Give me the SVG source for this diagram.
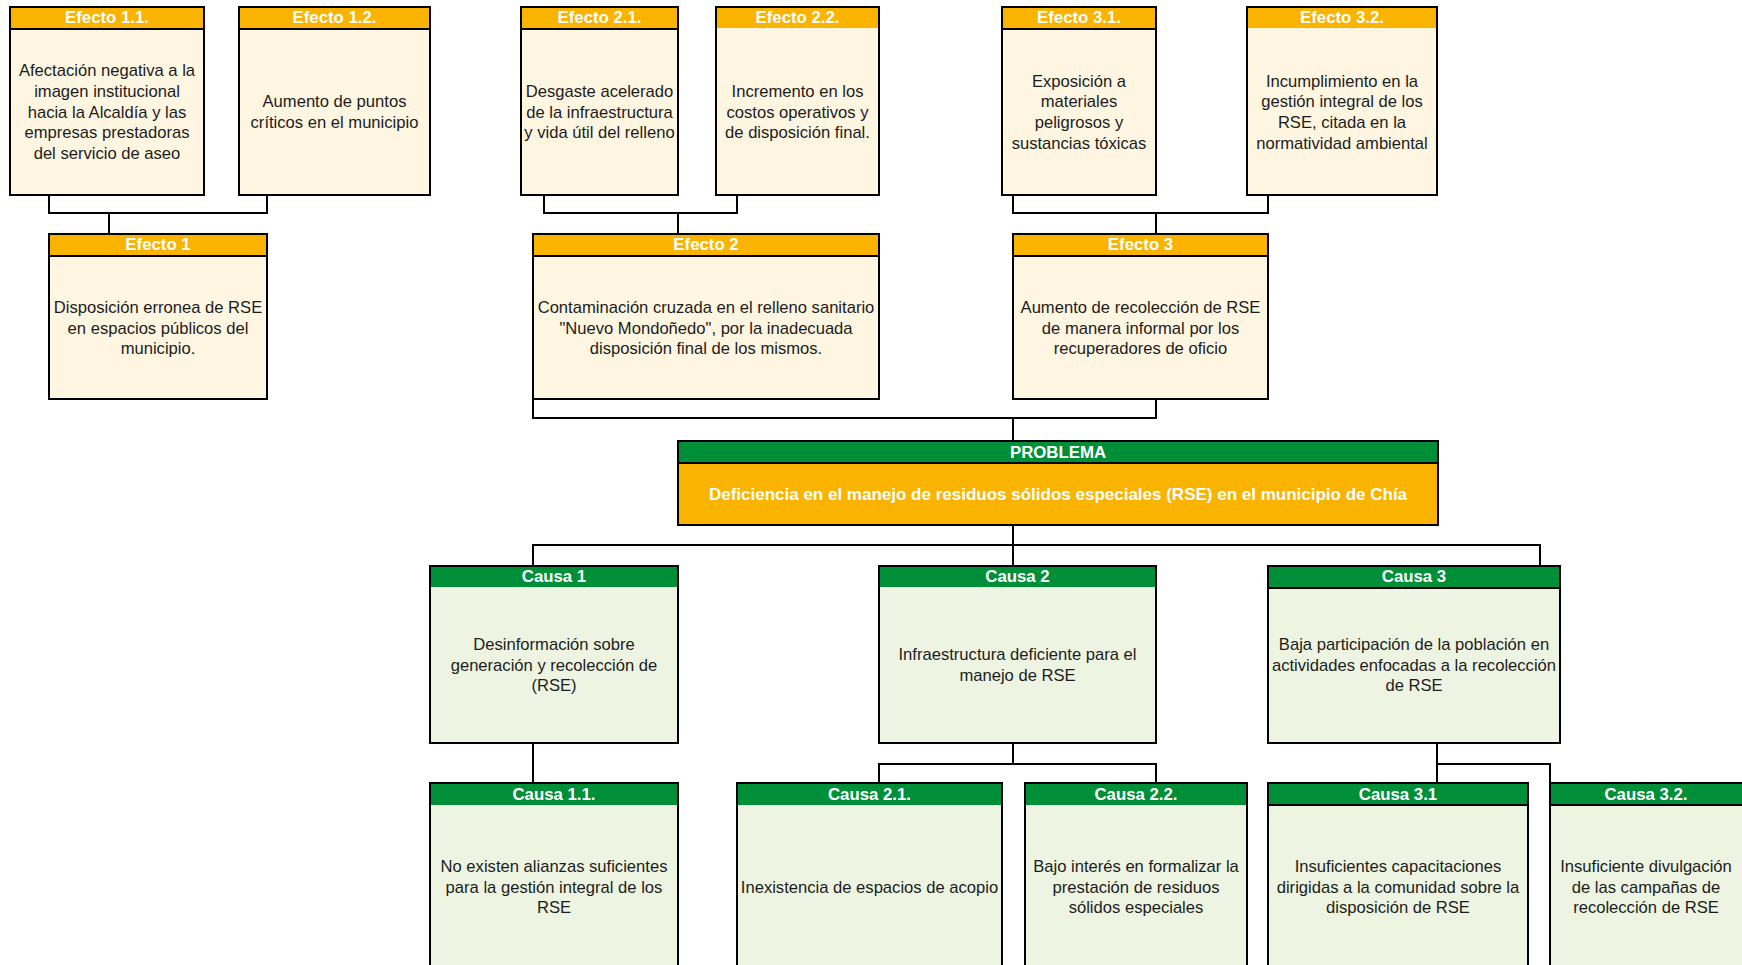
<svg xmlns="http://www.w3.org/2000/svg" width="1742" height="965" viewBox="0 0 1742 965">
<style>
.bo{fill:#FEF6E1;stroke:#000;stroke-width:2}
.bg{fill:#EDF5E2;stroke:#000;stroke-width:2}
.ho{fill:#FAB400}
.hg{fill:#008F39}
.sep{stroke:#000;stroke-width:2}
.ht{font-family:"Liberation Sans",Arial,sans-serif;font-weight:bold;font-size:16.8px;fill:#fff;text-anchor:middle}
.bt{font-family:"Liberation Sans",Arial,sans-serif;font-size:16.6px;fill:#1c1c1c;text-anchor:middle}
.pt{font-family:"Liberation Sans",Arial,sans-serif;font-weight:bold;font-size:17px;fill:#fff;text-anchor:middle}
.cn{fill:none;stroke:#000;stroke-width:2}
</style>
<rect width="1742" height="965" fill="#fff"/>

<g id="connectors" class="cn">
<polyline points="49,195 49,213 267,213 267,195"/>
<line x1="109" y1="213" x2="109" y2="234"/>
<polyline points="544,195 544,213 737,213 737,195"/>
<line x1="678" y1="213" x2="678" y2="234"/>
<polyline points="1013,195 1013,213 1268,213 1268,195"/>
<line x1="1156" y1="213" x2="1156" y2="234"/>
<polyline points="533,399 533,418 1156,418 1156,399"/>
<line x1="1013" y1="418" x2="1013" y2="441"/>
<line x1="1013" y1="525" x2="1013" y2="566"/>
<polyline points="533,566 533,545 1540,545 1540,566"/>
<line x1="533" y1="743" x2="533" y2="783"/>
<line x1="1013" y1="743" x2="1013" y2="764"/>
<polyline points="879,783 879,764 1156,764 1156,783"/>
<line x1="1437" y1="743" x2="1437" y2="783"/>
<polyline points="1437,764 1550,764 1550,783"/>
</g>

<g id="efecto-1-1">
<rect class="bo" x="10" y="7" width="194" height="188"/>
<rect class="ho" x="11" y="8" width="192" height="21"/>
<line class="sep" x1="10" y1="29" x2="204" y2="29"/>
<text class="ht" x="107" y="23">Efecto 1.1.</text>
<text class="bt" x="107" y="76.1">Afectación negativa a la</text>
<text class="bt" x="107" y="96.8">imagen institucional</text>
<text class="bt" x="107" y="117.5">hacia la Alcaldía y las</text>
<text class="bt" x="107" y="138.2">empresas prestadoras</text>
<text class="bt" x="107" y="158.9">del servicio de aseo</text>
</g>

<g id="efecto-1-2">
<rect class="bo" x="239" y="7" width="191" height="188"/>
<rect class="ho" x="240" y="8" width="189" height="21"/>
<line class="sep" x1="239" y1="29" x2="430" y2="29"/>
<text class="ht" x="334.5" y="23">Efecto 1.2.</text>
<text class="bt" x="334.5" y="107.2">Aumento de puntos</text>
<text class="bt" x="334.5" y="127.9">críticos en el municipio</text>
</g>

<g id="efecto-2-1">
<rect class="bo" x="521" y="7" width="157" height="188"/>
<rect class="ho" x="522" y="8" width="155" height="21"/>
<line class="sep" x1="521" y1="29" x2="678" y2="29"/>
<text class="ht" x="599.5" y="23">Efecto 2.1.</text>
<text class="bt" x="599.5" y="96.8">Desgaste acelerado</text>
<text class="bt" x="599.5" y="117.5">de la infraestructura</text>
<text class="bt" x="599.5" y="138.2">y vida útil del relleno</text>
</g>

<g id="efecto-2-2">
<rect class="bo" x="716" y="7" width="163" height="188"/>
<rect class="ho" x="717" y="8" width="161" height="20"/>
<text class="ht" x="797.5" y="23">Efecto 2.2.</text>
<text class="bt" x="797.5" y="96.8">Incremento en los</text>
<text class="bt" x="797.5" y="117.5">costos operativos y</text>
<text class="bt" x="797.5" y="138.2">de disposición final.</text>
</g>

<g id="efecto-3-1">
<rect class="bo" x="1002" y="7" width="154" height="188"/>
<rect class="ho" x="1003" y="8" width="152" height="21"/>
<line class="sep" x1="1002" y1="29" x2="1156" y2="29"/>
<text class="ht" x="1079" y="23">Efecto 3.1.</text>
<text class="bt" x="1079" y="86.5">Exposición a</text>
<text class="bt" x="1079" y="107.2">materiales</text>
<text class="bt" x="1079" y="127.9">peligrosos y</text>
<text class="bt" x="1079" y="148.6">sustancias tóxicas</text>
</g>

<g id="efecto-3-2">
<rect class="bo" x="1247" y="7" width="190" height="188"/>
<rect class="ho" x="1248" y="8" width="188" height="20"/>
<text class="ht" x="1342" y="23">Efecto 3.2.</text>
<text class="bt" x="1342" y="86.5">Incumplimiento en la</text>
<text class="bt" x="1342" y="107.2">gestión integral de los</text>
<text class="bt" x="1342" y="127.9">RSE, citada en la</text>
<text class="bt" x="1342" y="148.6">normatividad ambiental</text>
</g>

<g id="efecto-1">
<rect class="bo" x="49" y="234" width="218" height="165"/>
<rect class="ho" x="50" y="235" width="216" height="21"/>
<line class="sep" x1="49" y1="256" x2="267" y2="256"/>
<text class="ht" x="158" y="250">Efecto 1</text>
<text class="bt" x="158" y="312.8">Disposición erronea de RSE</text>
<text class="bt" x="158" y="333.5">en espacios públicos del</text>
<text class="bt" x="158" y="354.2">municipio.</text>
</g>

<g id="efecto-2">
<rect class="bo" x="533" y="234" width="346" height="165"/>
<rect class="ho" x="534" y="235" width="344" height="21"/>
<line class="sep" x1="533" y1="256" x2="879" y2="256"/>
<text class="ht" x="706" y="250">Efecto 2</text>
<text class="bt" x="706" y="312.8">Contaminación cruzada en el relleno sanitario</text>
<text class="bt" x="706" y="333.5">"Nuevo Mondoñedo", por la inadecuada</text>
<text class="bt" x="706" y="354.2">disposición final de los mismos.</text>
</g>

<g id="efecto-3">
<rect class="bo" x="1013" y="234" width="255" height="165"/>
<rect class="ho" x="1014" y="235" width="253" height="21"/>
<line class="sep" x1="1013" y1="256" x2="1268" y2="256"/>
<text class="ht" x="1140.5" y="250">Efecto 3</text>
<text class="bt" x="1140.5" y="312.8">Aumento de recolección de RSE</text>
<text class="bt" x="1140.5" y="333.5">de manera informal por los</text>
<text class="bt" x="1140.5" y="354.2">recuperadores de oficio</text>
</g>

<g id="problema">
<rect x="678" y="441" width="760" height="84" fill="#FAB400" stroke="#000" stroke-width="2"/>
<rect class="hg" x="679" y="442" width="758" height="21"/>
<line class="sep" x1="678" y1="463" x2="1438" y2="463"/>
<text class="ht" x="1058" y="457.5">PROBLEMA</text>
<text class="pt" x="1058" y="499.8">Deficiencia en el manejo de residuos sólidos especiales (RSE) en el municipio de Chía</text>
</g>

<g id="causa-1">
<rect class="bg" x="430" y="566" width="248" height="177"/>
<rect class="hg" x="431" y="567" width="246" height="20"/>
<text class="ht" x="554" y="582">Causa 1</text>
<text class="bt" x="554" y="649.8">Desinformación sobre</text>
<text class="bt" x="554" y="670.5">generación y recolección de</text>
<text class="bt" x="554" y="691.2">(RSE)</text>
</g>

<g id="causa-2">
<rect class="bg" x="879" y="566" width="277" height="177"/>
<rect class="hg" x="880" y="567" width="275" height="20"/>
<text class="ht" x="1017.5" y="582">Causa 2</text>
<text class="bt" x="1017.5" y="660.2">Infraestructura deficiente para el</text>
<text class="bt" x="1017.5" y="680.9">manejo de RSE</text>
</g>

<g id="causa-3">
<rect class="bg" x="1268" y="566" width="292" height="177"/>
<rect class="hg" x="1269" y="567" width="290" height="21"/>
<line class="sep" x1="1268" y1="588" x2="1560" y2="588"/>
<text class="ht" x="1414" y="582">Causa 3</text>
<text class="bt" x="1414" y="649.8">Baja participación de la población en</text>
<text class="bt" x="1414" y="670.5">actividades enfocadas a la recolección</text>
<text class="bt" x="1414" y="691.2">de RSE</text>
</g>

<g id="causa-1-1">
<rect class="bg" x="430" y="783" width="248" height="186"/>
<rect class="hg" x="431" y="784" width="246" height="21"/>
<text class="ht" x="554" y="799.5">Causa 1.1.</text>
<text class="bt" x="554" y="871.8">No existen alianzas suficientes</text>
<text class="bt" x="554" y="892.5">para la gestión integral de los</text>
<text class="bt" x="554" y="913.2">RSE</text>
</g>

<g id="causa-2-1">
<rect class="bg" x="737" y="783" width="265" height="186"/>
<rect class="hg" x="738" y="784" width="263" height="21"/>
<text class="ht" x="869.5" y="799.5">Causa 2.1.</text>
<text class="bt" x="869.5" y="892.5">Inexistencia de espacios de acopio</text>
</g>

<g id="causa-2-2">
<rect class="bg" x="1025" y="783" width="222" height="186"/>
<rect class="hg" x="1026" y="784" width="220" height="21"/>
<text class="ht" x="1136" y="799.5">Causa 2.2.</text>
<text class="bt" x="1136" y="871.8">Bajo interés en formalizar la</text>
<text class="bt" x="1136" y="892.5">prestación de residuos</text>
<text class="bt" x="1136" y="913.2">sólidos especiales</text>
</g>

<g id="causa-3-1">
<rect class="bg" x="1268" y="783" width="260" height="186"/>
<rect class="hg" x="1269" y="784" width="258" height="21"/>
<line class="sep" x1="1268" y1="805" x2="1528" y2="805"/>
<text class="ht" x="1398" y="799.5">Causa 3.1</text>
<text class="bt" x="1398" y="871.8">Insuficientes capacitaciones</text>
<text class="bt" x="1398" y="892.5">dirigidas a la comunidad sobre la</text>
<text class="bt" x="1398" y="913.2">disposición de RSE</text>
</g>

<g id="causa-3-2">
<rect class="bg" x="1550" y="783" width="196" height="186"/>
<rect class="hg" x="1551" y="784" width="194" height="21"/>
<line class="sep" x1="1550" y1="805" x2="1746" y2="805"/>
<text class="ht" x="1646" y="799.5">Causa 3.2.</text>
<text class="bt" x="1646" y="871.8">Insuficiente divulgación</text>
<text class="bt" x="1646" y="892.5">de las campañas de</text>
<text class="bt" x="1646" y="913.2">recolección de RSE</text>
</g>
</svg>
